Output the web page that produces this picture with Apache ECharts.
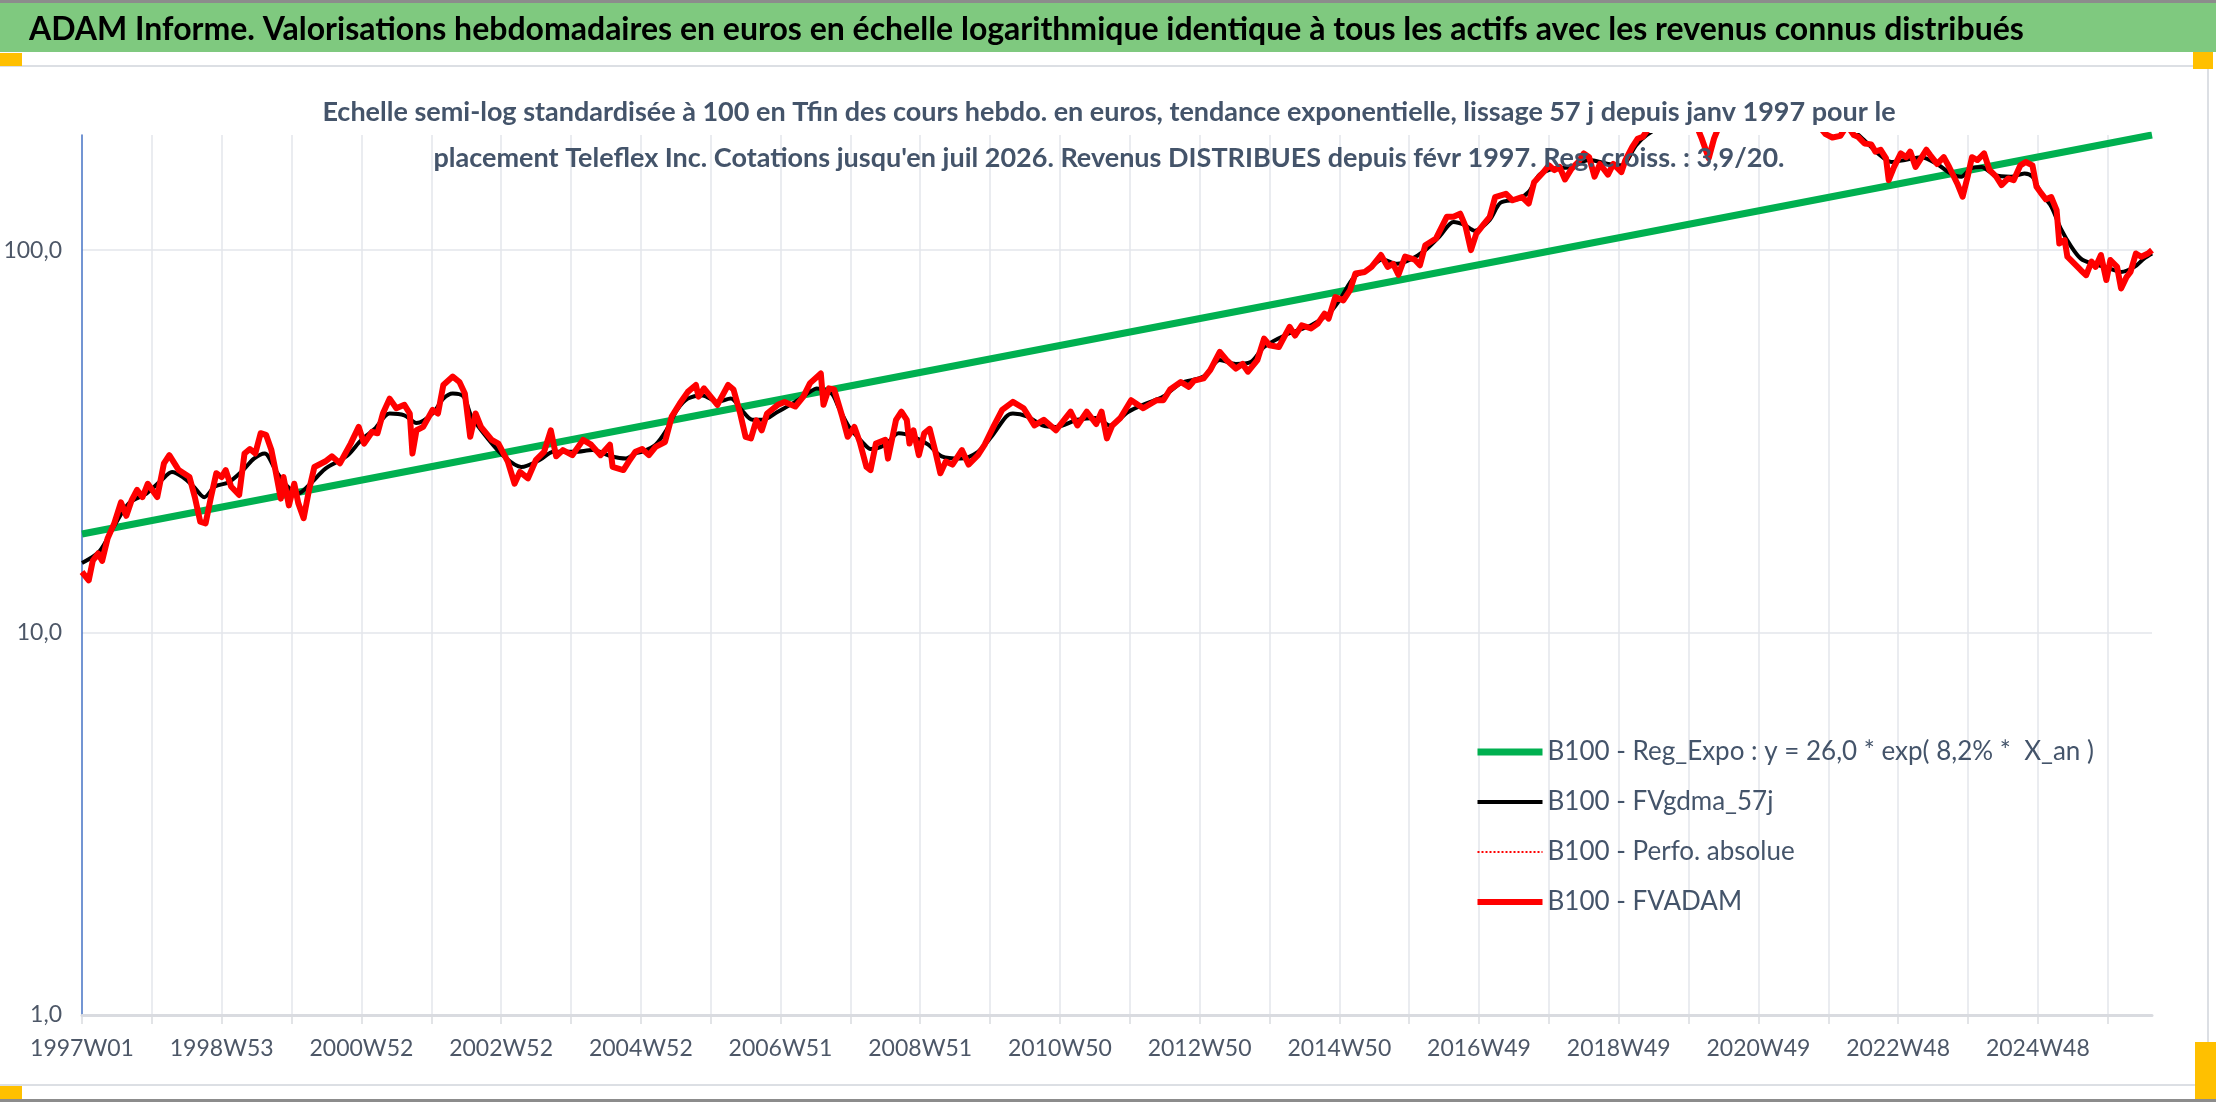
<!DOCTYPE html>
<html>
<head>
<meta charset="utf-8">
<title>ADAM Informe - Teleflex Inc.</title>
<script src="https://cdn.jsdelivr.net/npm/echarts@6/dist/echarts.min.js"></script>
<style>
html, body { margin: 0; padding: 0; background: #fff; }
#chart { width: 2216px; height: 1102px; }
</style>
</head>
<body>
<div id="chart"></div>
<script>
// semaines depuis 1997W01 -> valeur base 100 en fin de periode
var tickLabels = ['1997W01', '1998W53', '2000W52', '2002W52', '2004W52', '2006W51', '2008W51',
  '2010W50', '2012W50', '2014W50', '2016W49', '2018W49', '2020W49', '2022W48', '2024W48'];

var legendNames = [
  'B100 - Reg_Expo : y = 26,0 * exp( 8,2% *  X_an )',
  'B100 - FVgdma_57j',
  'B100 - Perfo. absolue',
  'B100 - FVADAM'
];

var lastWeek = 1541;

// tendance exponentielle (droite en semi-log)
var regExpo = [[0, 18.1], [1541, 200]];

// FVADAM (cours hebdo, revenus distribues)
var fvadam = [
  [0,14.4],[5,13.7],[8,15.4],[12,16.1],[15,15.4],[19,17.6],[24,19.3],[29,21.9],[33,20.2],[37,22.2],
  [41,23.6],[45,22.6],[49,24.5],[56,22.6],[61,27.7],[65,29.1],[72,26.6],[80,25.5],[84,22.6],[88,19.5],
  [92,19.3],[96,22.6],[100,26.1],[104,25.5],[107,26.6],[111,24.1],[117,22.9],[121,29.4],[125,30.2],[129,29.4],
  [133,33.2],[137,32.9],[141,30.0],[144,26.6],[148,22.4],[150,25.5],[154,21.5],[158,24.5],[161,21.8],[165,19.9],
  [169,23.6],[173,27.1],[181,28.0],[186,28.9],[192,27.7],[196,29.4],[200,31.2],[206,34.5],[210,31.2],[216,33.5],
  [220,33.2],[224,37.4],[229,40.9],[234,38.6],[240,39.4],[244,37.4],[246,29.4],[249,33.8],[254,34.5],[261,38.2],
  [265,37.4],[269,44.4],[276,46.7],[281,45.2],[285,42.2],[289,32.5],[293,37.4],[297,34.5],[305,31.9],[310,31.2],
  [317,28.0],[322,24.5],[326,26.3],[332,25.3],[338,28.3],[344,29.7],[349,33.8],[353,28.9],[358,30.0],[365,29.1],
  [373,31.9],[379,31.0],[386,29.1],[393,31.0],[395,27.1],[403,26.6],[407,28.0],[412,29.7],[417,30.2],[422,29.1],
  [427,30.6],[434,31.5],[439,36.7],[445,39.7],[451,42.6],[457,44.4],[459,41.4],[463,43.5],[473,39.4],[481,44.4],
  [485,43.2],[490,37.4],[494,32.5],[498,32.2],[502,35.9],[506,33.8],[510,37.4],[518,39.4],[523,40.1],[531,39.0],
  [537,41.4],[542,44.9],[550,47.6],[552,39.4],[556,43.5],[560,43.2],[566,36.7],[570,32.5],[575,34.5],[579,31.5],
  [584,27.1],[587,26.6],[591,31.2],[598,31.9],[600,28.5],[606,36.0],[610,37.8],[614,36.0],[616,31.2],[619,33.8],
  [623,29.1],[627,33.2],[631,34.1],[635,30.0],[639,26.1],[643,28.0],[648,27.5],[655,30.0],[660,27.5],[667,29.1],
  [672,31.0],[679,34.8],[685,38.2],[693,40.1],[701,38.6],[709,34.8],[716,36.0],[725,33.8],[736,37.8],[741,34.8],
  [748,37.8],[755,35.1],[759,37.8],[763,32.2],[767,34.8],[773,36.4],[781,40.5],[790,38.6],[800,40.5],[805,40.5],
  [810,43.2],[818,45.2],[824,43.9],[828,45.6],[835,46.2],[840,48.6],[847,54.2],[852,51.6],[859,49.0],[864,50.4],
  [868,48.1],[875,51.6],[880,58.7],[884,56.4],[891,55.8],[899,63.0],[903,59.8],[908,63.6],[915,62.4],[920,64.3],
  [925,68.2],[928,66.2],[933,75.4],[939,73.9],[944,78.6],[948,86.9],[955,87.7],[960,90.4],[967,97.1],[972,90.4],
  [976,92.1],[980,86.2],[985,96.2],[992,94.5],[996,91.3],[1000,103.0],[1008,107.3],[1016,122.2],[1021,122.2],[1026,124.5],
  [1030,115.3],[1034,100],[1038,110.4],[1044,117.5],[1048,122.2],[1052,137.6],[1060,140.4],[1065,135],[1072,137.6],[1077,132.4],
  [1081,150.4],[1088,160],[1092,166.6],[1096,161.9],[1100,165],[1104,153],[1109,163.5],[1114,170],[1118,179],[1122,175],
  [1126,155.6],[1130,168],[1136,157.5],[1140,168],[1146,160],[1149,172],[1154,186],[1158,195.5],[1162,198],[1167,210],
  [1175,235],[1183,225],[1192,245],[1200,220],[1206,195],[1211,174],[1215,196],[1222,225],[1235,255],[1250,275],
  [1262,260],[1275,240],[1288,222],[1298,201],[1303,197],[1309,199],[1314,212],[1319,200],[1322,198],[1327,190],
  [1332,189],[1335,181],[1339,183],[1343,173.7],[1345,152.4],[1349,165],[1354,179],[1358,175],[1361,181],[1365,165],
  [1369,173.7],[1373,183],[1376,177],[1381,168],[1386,175],[1390,165],[1396,149.4],[1400,137.9],[1404,157],[1407,175],
  [1411,172],[1416,179],[1420,162],[1425,155.6],[1429,148],[1434,154],[1438,152.4],[1443,166.6],[1447,170],[1452,166.6],
  [1455,146.4],[1458,141.6],[1462,135.8],[1466,137.6],[1470,127.2],[1472,104.1],[1476,106.2],[1478,96.1],[1483,92.3],[1488,88.6],
  [1492,86.0],[1496,93.3],[1499,90.4],[1503,97.1],[1507,83.5],[1510,94.2],[1515,90.4],[1518,79.4],[1522,85],[1525,87.7],
  [1529,98.0],[1533,96.1],[1538,98],[1541,100]
];

// FVgdma_57j (lissage)
var fvgdma = [
  [0,15.2],[13,16.3],[24,19.0],[35,21.8],[48,23.1],[59,25.0],[67,26.3],[75,25.5],[83,24.1],[91,22.6],
  [99,24.1],[109,24.7],[120,26.6],[128,28.5],[136,29.4],[144,26.6],[152,24.3],[161,23.1],[170,24.5],[181,26.8],
  [197,28.9],[208,31.9],[218,34.1],[229,37.4],[240,37.0],[249,35.3],[261,37.4],[269,40.9],[276,42.2],[284,41.4],
  [290,36.7],[301,32.5],[314,28.9],[327,27.1],[341,28.3],[351,29.7],[367,29.7],[380,30.0],[394,28.9],[405,28.5],
  [412,29.4],[417,29.7],[427,31.0],[435,33.8],[443,38.2],[451,40.9],[462,41.7],[473,40.1],[483,40.9],[491,38.2],
  [499,36.0],[507,36.0],[518,37.8],[531,40.1],[542,42.6],[547,43.5],[558,42.2],[563,39.0],[571,34.5],[582,31.2],
  [587,30.2],[598,31.0],[608,33.2],[619,32.5],[630,31.0],[640,28.9],[654,28.5],[667,29.7],[677,32.5],[688,36.7],
  [693,37.4],[704,36.7],[715,34.8],[725,34.5],[741,36.0],[755,36.4],[765,34.8],[779,37.8],[792,39.7],[805,41.4],
  [818,44.9],[835,46.7],[847,51.6],[859,50.4],[870,51],[880,55.8],[896,60],[915,63.6],[928,68.2],[936,73.9],
  [947,85],[957,88.6],[968,94.5],[979,92.1],[989,94.5],[1000,100],[1011,109],[1021,118.5],[1029,116.5],[1037,112.4],
  [1048,120],[1056,133],[1069,136],[1077,142],[1085,157.5],[1096,163.5],[1109,165],[1122,172],[1136,168],[1146,166.6],
  [1157,188],[1165,200],[1180,215],[1200,225],[1215,218],[1240,240],[1265,250],[1290,232],[1310,215],[1324,198],
  [1337,179],[1347,170],[1357,172],[1369,175],[1381,168],[1391,158.7],[1399,155.6],[1406,163.5],[1414,165],[1424,157],
  [1436,155.6],[1446,158.7],[1452,155.6],[1458,141.6],[1466,130],[1473,114],[1481,102],[1488,95],[1496,92.3],[1506,90.4],
  [1518,87.7],[1528,90.4],[1535,95],[1541,98]
];

var chart = echarts.init(document.getElementById('chart'));
var font = 'Lato, "Noto Sans", sans-serif';
var slate = '#44546A';

chart.setOption({
  backgroundColor: '#ffffff',
  animation: false,
  graphic: [
    { type: 'rect', shape: { x: 0, y: 0, width: 2216, height: 3 }, style: { fill: '#8c8c8c' } },
    { type: 'rect', shape: { x: 0, y: 3, width: 2216, height: 49 }, style: { fill: '#7FC97F' } },
    { type: 'rect', shape: { x: -2, y: 66, width: 2210, height: 1019 }, style: { fill: 'none', stroke: '#dcdfe4', lineWidth: 2 } },
    { type: 'rect', shape: { x: 0, y: 1099, width: 2216, height: 3 }, style: { fill: '#8c8c8c' } },
    { type: 'rect', shape: { x: 0, y: 53, width: 22, height: 13 }, style: { fill: '#FFC000' } },
    { type: 'rect', shape: { x: 2193, y: 52, width: 20, height: 17 }, style: { fill: '#FFC000' } },
    { type: 'rect', shape: { x: 0, y: 1086, width: 22, height: 13 }, style: { fill: '#FFC000' } },
    { type: 'rect', shape: { x: 2195, y: 1042, width: 21, height: 57 }, style: { fill: '#FFC000' } }
  ],
  title: [
    {
      text: 'ADAM Informe. Valorisations hebdomadaires en euros en échelle logarithmique identique à tous les actifs avec les revenus connus distribués',
      left: 24, top: 9,
      textStyle: { fontFamily: font, fontSize: 32, fontWeight: 'bold', color: '#000000' }
    },
    {
      text: 'Echelle semi-log standardisée à 100 en Tfin des cours hebdo. en euros, tendance exponentielle, lissage 57 j depuis janv 1997 pour le\nplacement Teleflex Inc. Cotations jusqu\'en juil 2026. Revenus DISTRIBUES depuis févr 1997. Reg. croiss. : 3,9/20.',
      left: 1104, top: 84, textAlign: 'center',
      textStyle: { fontFamily: font, fontSize: 27, fontWeight: 'bold', color: slate, lineHeight: 46 }
    }
  ],
  legend: {
    orient: 'vertical',
    left: 1469, top: 732,
    itemWidth: 65, itemHeight: 14, itemGap: 20,
    itemStyle: { opacity: 0 },
    textStyle: { fontFamily: font, fontSize: 26, color: slate, lineHeight: 30 },
    data: [
      { name: legendNames[0], lineStyle: { width: 7 } },
      { name: legendNames[1], lineStyle: { width: 4 } },
      { name: legendNames[2], lineStyle: { width: 2 } },
      { name: legendNames[3], lineStyle: { width: 6 } }
    ]
  },
  grid: { left: 82, right: 64, top: 135, bottom: 87 },
  xAxis: {
    type: 'value', min: 0, max: lastWeek, interval: 52,
    axisLine: { show: true, lineStyle: { color: '#d9dbe0', width: 3 } },
    axisTick: { show: true, length: 9, lineStyle: { color: '#d9dbe0', width: 1.5 } },
    splitLine: { show: true, showMinLine: false, showMaxLine: false, lineStyle: { color: '#e3e6eb', width: 1.5 } },
    axisLabel: {
      margin: 22, fontFamily: font, fontSize: 23, color: '#4d5767',
      showMaxLabel: false,
      formatter: function (v) {
        return v % 104 === 0 ? (tickLabels[v / 104] || '') : '';
      }
    }
  },
  yAxis: {
    type: 'log', logBase: 10, min: 1, max: 200,
    axisLine: { show: true, lineStyle: { color: '#4472C4', width: 1.5 } },
    axisTick: { show: false },
    splitLine: { show: true, showMinLine: false, showMaxLine: false, lineStyle: { color: '#e3e6eb', width: 1.5 } },
    axisLabel: {
      margin: 20, fontFamily: font, fontSize: 23, color: '#4d5767',
      showMaxLabel: false,
      formatter: function (v) { return v.toFixed(1).replace('.', ','); }
    }
  },
  series: [
    {
      name: legendNames[0], type: 'line', data: regExpo, symbol: 'none', z: 2,
      lineStyle: { color: '#00B050', width: 7 }, itemStyle: { color: '#00B050' }
    },
    {
      name: legendNames[1], type: 'line', data: fvgdma, symbol: 'none', smooth: 0.3, z: 3,
      lineStyle: { color: '#000000', width: 4 }, itemStyle: { color: '#000000' }
    },
    {
      name: legendNames[2], type: 'line', data: fvadam, symbol: 'none', z: 4,
      lineStyle: { color: '#FF0000', width: 2, type: 'dotted' }, itemStyle: { color: '#FF0000' }
    },
    {
      name: legendNames[3], type: 'line', data: fvadam, symbol: 'none', z: 5,
      lineStyle: { color: '#FF0000', width: 6, join: 'round' }, itemStyle: { color: '#FF0000' }
    }
  ]
});
</script>
</body>
</html>
